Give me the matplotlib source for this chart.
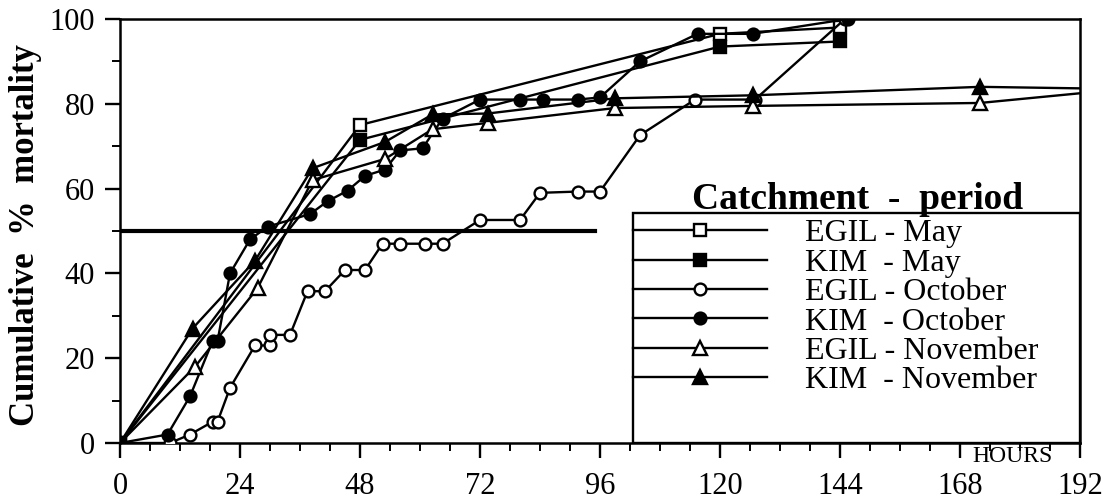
import matplotlib
matplotlib.use("Agg")
import matplotlib.pyplot as plt
from matplotlib.lines import Line2D
from matplotlib.patches import Rectangle
from matplotlib.ticker import MultipleLocator

plt.rcParams['font.family'] = ['Liberation Serif', 'DejaVu Serif']

# Cumulative mortality (%) against exposure time (hours)
egil_may_h = [0, 48, 120, 144]
egil_may_p = [0, 75, 96.5, 98]
kim_may_h = [0, 48, 120, 144]
kim_may_p = [0, 71.5, 93.5, 94.7]

egil_oct_h = [0, 10, 14, 18.5, 19.5, 22, 27, 30, 30, 34, 37.5, 41, 45, 49,
              52.5, 56, 61, 64.5, 72, 80, 84, 91.5, 96, 104, 115, 127, 145]
egil_oct_p = [0, 0, 2, 5, 5, 13, 23, 23, 25.5, 25.5, 35.8, 35.8, 40.8, 40.8,
              47, 47, 47, 47, 52.6, 52.6, 59, 59.3, 59.3, 72.6, 81, 81, 100]
kim_oct_h = [0, 9.5, 14, 18.5, 19.5, 22, 26, 29.5, 38, 41.5, 45.5, 49, 53, 56,
             60.5, 64.5, 72, 80, 84.5, 91.5, 96, 104, 115.5, 126.5, 145.5]
kim_oct_p = [0, 2, 11, 24, 24, 40, 48, 51, 54, 57, 59.5, 63, 64.5, 69,
             69.5, 76.5, 81, 81, 81, 81, 81.5, 90, 96.5, 96.5, 100]

egil_nov_h = [0, 15, 27.5, 38.5, 53, 62.5, 73.5, 99, 126.5, 172, 200]
egil_nov_p = [0, 18, 36.5, 62, 67, 74, 75.5, 79, 79.5, 80.2, 83.4]
kim_nov_h = [0, 14.5, 27, 38.5, 53, 62.5, 73.5, 99, 126.5, 172, 200]
kim_nov_p = [0, 27, 43, 64.8, 71, 77.5, 77.7, 81.3, 82, 84, 83.5]

ld50_h = [0, 95]
ld50_p = [50, 50]

labels = ["EGIL - May", "KIM  - May", "EGIL - October", "KIM  - October",
          "EGIL - November", "KIM  - November"]

fig = plt.figure(figsize=(11.06, 5), dpi=100)
ax = fig.add_axes([0.1085, 0.114, 0.868, 0.848])

ax.plot(ld50_h, ld50_p, color='black', lw=3, zorder=1)

series = [
    (egil_may_h, egil_may_p, 's', 'white', 8),
    (kim_may_h, kim_may_p, 's', 'black', 8),
    (egil_oct_h, egil_oct_p, 'o', 'white', 8.5),
    (kim_oct_h, kim_oct_p, 'o', 'black', 8.5),
    (egil_nov_h, egil_nov_p, '^', 'white', 10.5),
    (kim_nov_h, kim_nov_p, '^', 'black', 10.5),
]
handles = []
for (h, p, m, fc, ms), lab in zip(series, labels):
    ax.plot(h, p, color='black', lw=1.7, marker=m, ms=ms, mfc=fc,
            mec='black', mew=1.7, zorder=3)
    handles.append(Line2D([], [], color='black', lw=1.7, marker=m, ms=ms,
                          mfc=fc, mec='black', mew=1.7))

ax.set_xlim(0, 192)
ax.set_ylim(0, 100)
ax.xaxis.set_major_locator(MultipleLocator(24))
ax.xaxis.set_minor_locator(MultipleLocator(6))
ax.yaxis.set_major_locator(MultipleLocator(20))
ax.yaxis.set_minor_locator(MultipleLocator(10))
ax.tick_params(which='major', direction='out', length=11, width=1.7,
               labelsize=22)
ax.tick_params(axis='x', which='major', pad=10)
ax.tick_params(axis='y', which='major', pad=7)
ax.tick_params(which='minor', direction='out', length=6, width=1.4)
for s in ax.spines.values():
    s.set_linewidth(1.8)

fig.text(0.0235, 0.53, "Cumulative  %  mortality", rotation=90,
         ha='center', va='center', fontsize=25, fontweight='bold')
ax.text(0.8875, -0.007, "HOURS", transform=ax.transAxes, ha='left', va='top',
        fontsize=17)

# legend panel with its heading
ax.add_patch(Rectangle((0.534, 0), 0.466, 0.543, transform=ax.transAxes,
                       fill=False, lw=1.7, ec='black', zorder=4))
ax.text(0.768, 0.552, "Catchment  -  period", transform=ax.transAxes,
        ha='center', va='baseline', fontsize=27, fontweight='bold')
ax.legend(handles, labels, loc='upper left', bbox_to_anchor=(0.534, 0.528),
          frameon=False, fontsize=23, handlelength=4.2, handletextpad=1.2,
          labelspacing=0.0, borderpad=0, borderaxespad=0)

fig.savefig("out.png", dpi=100)
